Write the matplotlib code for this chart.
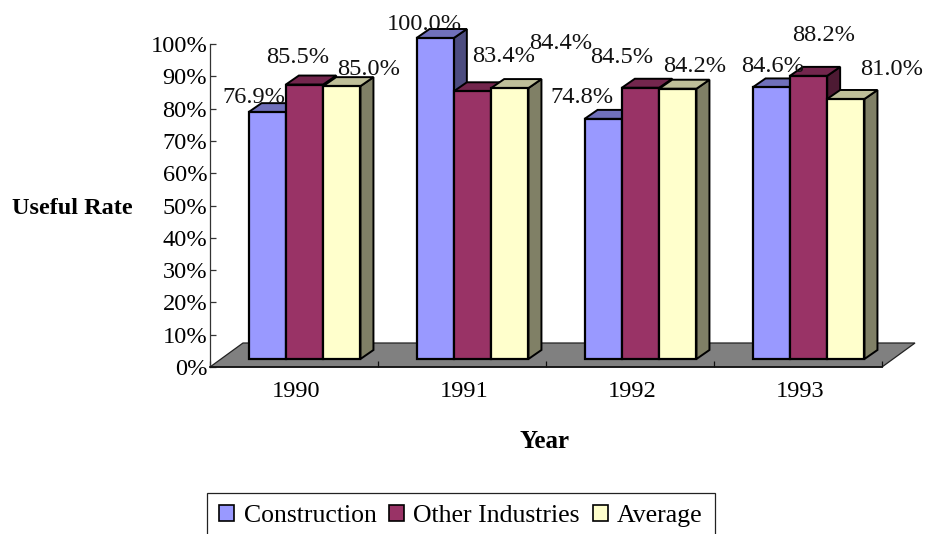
import matplotlib
matplotlib.use('Agg')
import matplotlib.pyplot as plt
from matplotlib.patches import Patch

years = ['1990', '1991', '1992', '1993']
series = ['Construction', 'Other Industries', 'Average']
construction = [76.9, 100.0, 74.8, 84.6]
other_industries = [85.5, 83.4, 84.5, 88.2]
average = [85.0, 84.4, 84.2, 81.0]
y_ticks = [0, 10, 20, 30, 40, 50, 60, 70, 80, 90, 100]

# front, top and side colour of each series
front_cols = ['#9999FF', '#993366', '#FFFFCC']
top_cols = ['#7070BB', '#73264D', '#BFBF99']
side_cols = ['#4D4D80', '#4D1A33', '#808066']

# label offsets from the top of each bar, in pixels
label_dx = [[-13.5, -6.5, 26.5], [-10.5, 31.5, 50.5], [-21, -18.5, 16.5], [1, 15.5, 45.5]]
label_dy = [[9, 22, 11], [8, 29, 39], [16, 25, 17], [15, 35, 24]]

W, H = 925, 534
plt.rcParams['font.family'] = ['Liberation Serif', 'DejaVu Serif']

fig = plt.figure(figsize=(W / 100, H / 100), dpi=100)
ax = fig.add_axes([210 / W, 1 - 367 / H, 672 / W, 323 / H])
ax.set_xlim(0, 4)
ax.set_ylim(0, 100)

px_x = 4 / 672    # one pixel in x data units
px_y = 100 / 323  # one pixel in y data units

# floor
fdx, fdy = 33 * px_x, 24 * px_y
ax.fill([0, 4, 4 + fdx, fdx], [0, 0, fdy, fdy], facecolor='#808080', edgecolor='#222222',
        linewidth=0.9, clip_on=False, zorder=1)

# bars, painted back to front so the neighbours hide the sides
bar_w = 37.3 * px_x
shift = 10.5 * px_x
base = 8 * px_y
k = 321 / 323
dx, dy = 13 * px_x, 9 * px_y
z = 2
values = [construction, other_industries, average]
for i in range(len(years)):
    for s in range(len(series)):
        v = values[s][i]
        xc = i + 0.5 + shift + (s - 1) * bar_w
        left = xc - bar_w / 2
        right = xc + bar_w / 2
        top = base + v * k
        ax.fill([right, right + dx, right + dx, right], [base, base + dy, top + dy, top],
                facecolor=side_cols[s], edgecolor='black', linewidth=1.4, clip_on=False, zorder=z)
        ax.fill([left, right, right + dx, left + dx], [top, top, top + dy, top + dy],
                facecolor=top_cols[s], edgecolor='black', linewidth=1.4, clip_on=False, zorder=z)
        ax.bar(xc, v * k, bar_w, bottom=base, color=front_cols[s], edgecolor='black',
               linewidth=1.6, clip_on=False, zorder=z + 0.5)
        z += 1
        ax.annotate('%.1f%%' % v, xy=(xc, top), xytext=(label_dx[i][s], label_dy[i][s]),
                    textcoords='offset pixels', ha='center', va='baseline', fontsize=17.6,
                    color='#111111', annotation_clip=False, zorder=50)

# axes
for name in ['top', 'right']:
    ax.spines[name].set_visible(False)
ax.spines['left'].set_color('#333333')
ax.spines['left'].set_linewidth(0.9)
ax.spines['bottom'].set_color('#111111')
ax.spines['bottom'].set_linewidth(1.2)
ax.spines['left'].set_zorder(40)
ax.spines['bottom'].set_zorder(40)

ax.set_yticks(y_ticks)
ax.set_yticklabels(['%d%%' % t for t in y_ticks], fontsize=17.6)
ax.tick_params(axis='y', direction='in', length=4, width=0.9, color='#333333', pad=2)
ax.set_xticks(range(5))
ax.set_xticklabels([])
ax.tick_params(axis='x', direction='in', length=4, width=0.9, color='#111111')
ax.set_xticks([i + 0.5 + 2 * px_x for i in range(4)], minor=True)
ax.set_xticklabels(years, minor=True, fontsize=17.6)
ax.tick_params(axis='x', which='minor', length=0, pad=10)

fig.text(72 / W, 1 - 208 / H, 'Useful Rate', fontsize=17.5, fontweight='bold', ha='center', va='center')
fig.text(545 / W, 1 - 442 / H, 'Year', fontsize=18, fontweight='bold', ha='center', va='center')

handles = [Patch(facecolor=c, edgecolor='black', linewidth=1.2) for c in front_cols]
leg = fig.legend(handles, series, ncol=3, loc='center', bbox_to_anchor=(461 / W, 1 - 516 / H),
                 fontsize=18.5, frameon=True, fancybox=False, framealpha=1, edgecolor='#222222',
                 handlelength=0.58, handleheight=0.58, handletextpad=0.36, columnspacing=0.5,
                 borderpad=0.48, borderaxespad=0)
leg.get_frame().set_linewidth(0.9)

fig.savefig('out.png', dpi=100)
